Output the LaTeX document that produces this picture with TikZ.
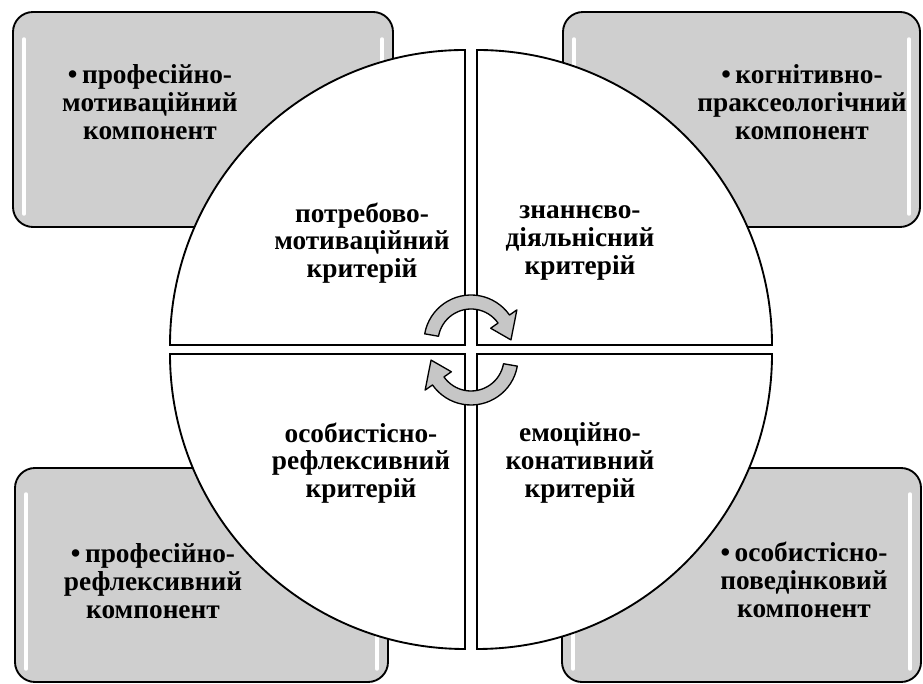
\documentclass[tikz,border=0pt]{standalone}
\usepackage{fontspec}
\setmainfont{Liberation Serif}
\definecolor{boxgray}{HTML}{CFCFCF}
\definecolor{arrowgray}{HTML}{C6C6C6}
% one of the two turning arrows, drawn round (0,0)
\newcommand{\turnpath}{(170:47) arc[start angle=170,end angle=35,radius=47] -- (35:56) -- (3:40) -- (35:24) -- (35:33) arc[start angle=35,end angle=170,radius=33] -- cycle}

\begin{document}
\begin{tikzpicture}[x=0.75pt,y=0.75pt,
  comp/.style={fill=boxgray, draw=black, line width=1.4pt, rounded corners=15pt},
  gloss/.style={white, line width=2.6pt, line cap=round},
  quad/.style={fill=white, draw=black, line width=1.4pt},
  turn/.style={fill=arrowgray, draw=black, line width=1pt, line join=round},
  txt/.style={font=\fontsize{20.5}{20.8}\selectfont\bfseries, align=center, inner sep=0pt}]

\useasboundingbox (0,0) rectangle (923,684);

% components
\filldraw[comp] (13,457) rectangle (393,672);
\filldraw[comp] (563,457) rectangle (920,672);
\filldraw[comp] (15,2) rectangle (388,216);
\filldraw[comp] (562,2) rectangle (921,216);

\draw[gloss] (24,470) -- (24,645);  \draw[gloss] (382,470) -- (382,645);
\draw[gloss] (574,470) -- (574,645); \draw[gloss] (909,470) -- (909,645);
\draw[gloss] (26,15) -- (26,190);   \draw[gloss] (377,15) -- (377,190);
\draw[gloss] (573,15) -- (573,190); \draw[gloss] (910,15) -- (910,190);

% circle of criteria
\filldraw[quad] (465,339) -- (170,339) arc[start angle=180,end angle=90,radius=295] -- cycle;
\filldraw[quad] (477,339) -- (477,634) arc[start angle=90,end angle=0,radius=295] -- cycle;
\filldraw[quad] (477,330) -- (772,330) arc[start angle=0,end angle=-90,radius=295] -- cycle;
\filldraw[quad] (465,330) -- (465,35) arc[start angle=270,end angle=180,radius=295] -- cycle;

\begin{scope}[shift={(471,342)}]
  \filldraw[turn] \turnpath;
\end{scope}
\begin{scope}[shift={(471,326)},rotate=180]
  \filldraw[turn] \turnpath;
\end{scope}

\node[txt] (motiv) at (150,582) {\textbullet\,професійно-\\мотиваційний\\компонент};
\node[txt] (kogn) at (802,582) {\textbullet\,когнітивно-\\праксеологічний\\компонент};
\node[txt] (refl) at (153,103) {\textbullet\,професійно-\\рефлексивний\\компонент};
\node[txt] (poved) at (804,104) {\textbullet\,особистісно-\\поведінковий\\компонент};

\node[txt] (potreb) at (362,441) {потребово-\\мотиваційний\\критерій};
\node[txt] (znan) at (580,441) {знаннєво-\\діяльнісний\\критерій};
\node[txt] (osob) at (361,221) {особистісно-\\рефлексивний\\критерій};
\node[txt] (emoc) at (580,221) {емоційно-\\конативний\\критерій};
\end{tikzpicture}
\end{document}
